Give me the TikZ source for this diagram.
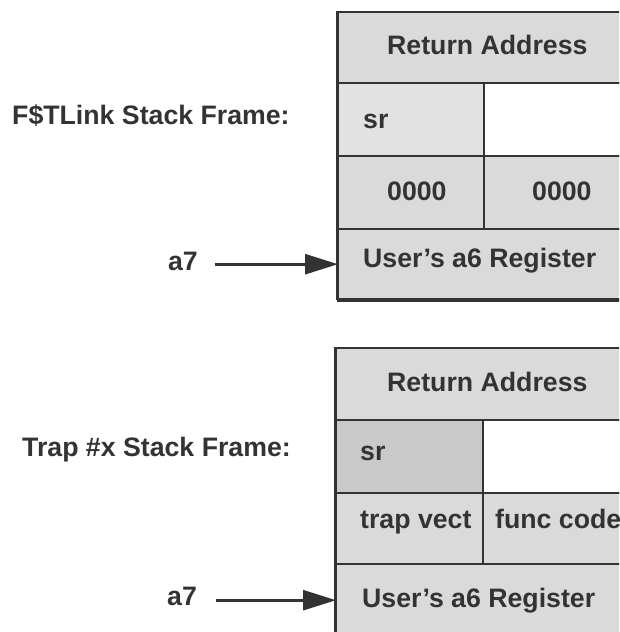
\documentclass[tikz,border=0pt]{standalone}
\usepackage{fontspec}
\setmainfont{Liberation Sans}
\usetikzlibrary{arrows.meta}
\definecolor{ink}{HTML}{333333}
\definecolor{stipple}{HTML}{DADADA}
\definecolor{stipplelight}{HTML}{E2E2E2}
\definecolor{stippledark}{HTML}{C9C9C9}
\tikzset{
  cell/.style={draw=ink, line width=2.4pt, fill=stipple, inner sep=0pt,
               anchor=north west, minimum height=#1},
  cell/.default=72pt,
  lbl/.style={anchor=base west, inner sep=0pt, text=ink,
              font=\bfseries\fontsize{26.7}{32}\selectfont},
  ptr/.style={draw=ink, line width=2.6pt,
              -{Triangle[length=33pt, width=20pt]}, shorten >=-1pt},
}
\begin{document}
\begin{tikzpicture}[x=1pt, y=-1pt]
  \useasboundingbox (0,0) rectangle (619,632);
  \clip (0,0) rectangle (619,632);

  % ---- F$TLink stack frame ----
  \node[cell=71pt, minimum width=300pt] (ra1) at (337,11) {};
  \node[cell=73pt, minimum width=146pt, fill=stipplelight] (sr1) at (337,82) {};
  \node[cell=73pt, minimum width=154pt, fill=white] (blank1) at (483,82) {};
  \node[cell=73pt, minimum width=146pt] (za1) at (337,155) {};
  \node[cell=73pt, minimum width=154pt] (zb1) at (483,155) {};
  \node[cell=70pt, minimum width=300pt] (usr1) at (337,228) {};
  \draw[ink, line width=3pt] (ra1.north west) -- (usr1.south west);
  \draw[ink, line width=3pt] (usr1.south west) -- (usr1.south east);

  \node[lbl] (t-ra1) at (387,54) {Return Address};
  \node[lbl] (t-sr1) at (363,128) {sr};
  \node[lbl] (t-za1) at (387,200) {0000};
  \node[lbl] (t-zb1) at (532,200) {0000};
  \node[lbl] (t-usr1) at (363,267) {User's a6 Register};

  \node[lbl] (title1) at (12,124) {F\$TLink Stack Frame:};
  \node[lbl, outer xsep=0pt] (a7t) at (168,270) {a7};
  \coordinate (a7t-tail) at ([xshift=17pt]a7t.east);
  \draw[ptr] (a7t-tail |- usr1.west) -- (usr1.west);

  % ---- Trap #x stack frame ----
  \node[cell=72pt, minimum width=302pt] (ra2) at (335,347) {};
  \node[cell=73pt, minimum width=147pt, fill=stippledark] (sr2) at (335,419) {};
  \node[cell=73pt, minimum width=155pt, fill=white] (blank2) at (482,419) {};
  \node[cell=71pt, minimum width=147pt] (tv2) at (335,492) {};
  \node[cell=71pt, minimum width=155pt] (fc2) at (482,492) {};
  \node[cell=72pt, minimum width=302pt] (usr2) at (335,563) {};
  \draw[ink, line width=3pt] (ra2.north west) -- (usr2.south west);

  \node[lbl] (t-ra2) at (387,391) {Return Address};
  \node[lbl] (t-sr2) at (360,460) {sr};
  \node[lbl] (t-tv2) at (360,528) {trap vect};
  \node[lbl] (t-fc2) at (495,528) {func code};
  \node[lbl] (t-usr2) at (362,607) {User's a6 Register};

  \node[lbl] (title2) at (22,456) {Trap \#x Stack Frame:};
  \node[lbl] (a7b) at (167,605) {a7};
  \coordinate (a7b-tail) at ([xshift=19pt]a7b.east);
  \draw[ptr] (a7b-tail |- usr2.west) -- (usr2.west);
\end{tikzpicture}
\end{document}
